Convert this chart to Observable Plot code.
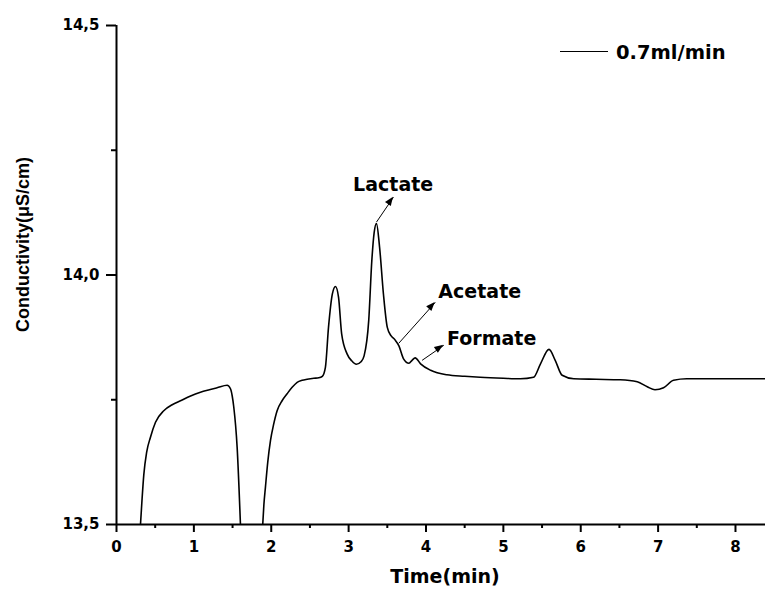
<!DOCTYPE html>
<html>
<head>
<meta charset="utf-8">
<script src="https://cdn.jsdelivr.net/npm/d3@7"></script>
<script src="https://cdn.jsdelivr.net/npm/@observablehq/plot@0.6"></script>
<style>
  html, body { margin: 0; padding: 0; background: #fff; }
  #chart { position: relative; width: 765px; height: 594px; }
</style>
</head>
<body>
<div id="chart"></div>
<script>
// ---- data ----
const seg1Time = [0.31, 0.33, 0.353, 0.39, 0.439, 0.504, 0.611, 0.72, 0.827, 0.95, 1.085, 1.2, 1.30, 1.43, 1.473, 1.495, 1.516, 1.559, 1.602];
const seg1Cond = [13.50, 13.55, 13.60, 13.645, 13.675, 13.705, 13.728, 13.740, 13.748, 13.757, 13.765, 13.770, 13.774, 13.779, 13.772, 13.758, 13.735, 13.655, 13.50];

const seg2Time = [1.89, 1.905, 1.925, 1.955, 1.99, 2.03, 2.076, 2.14, 2.205, 2.27, 2.335, 2.40, 2.464, 2.55, 2.614, 2.66, 2.70, 2.74, 2.79, 2.83, 2.87, 2.91, 2.98, 3.04, 3.10, 3.16, 3.20, 3.26, 3.30, 3.33, 3.36, 3.40, 3.45, 3.50, 3.55, 3.60, 3.65, 3.71, 3.78, 3.82, 3.86, 3.93, 4.06, 4.27, 4.50, 4.70, 5.0, 5.22, 5.39, 5.48, 5.59, 5.67, 5.76, 5.91, 6.2, 6.51, 6.73, 6.86, 6.96, 7.07, 7.2, 7.37, 7.8, 8.39];
const seg2Cond = [13.50, 13.54, 13.575, 13.625, 13.668, 13.70, 13.728, 13.748, 13.762, 13.775, 13.785, 13.789, 13.791, 13.793, 13.794, 13.797, 13.815, 13.895, 13.962, 13.977, 13.955, 13.882, 13.842, 13.828, 13.821, 13.826, 13.838, 13.909, 14.029, 14.085, 14.103, 14.056, 13.962, 13.895, 13.878, 13.870, 13.858, 13.832, 13.823, 13.829, 13.834, 13.822, 13.809, 13.800, 13.797, 13.795, 13.793, 13.792, 13.795, 13.822, 13.851, 13.829, 13.799, 13.792, 13.791, 13.790, 13.786, 13.776, 13.770, 13.774, 13.789, 13.792, 13.792, 13.792];

const seriesName = "0.7ml/min";

const xMajorTicks = [0, 1, 2, 3, 4, 5, 6, 7, 8];
const xMinorTicks = [0.5, 1.5, 2.5, 3.5, 4.5, 5.5, 6.5, 7.5];
const yMajorTicks = [13.5, 14.0, 14.5];
const yMinorTicks = [13.75, 14.25];

const peakLabels = ["Lactate", "Acetate", "Formate"];
const labelTime = [3.058, 4.16, 4.273];
const labelCond = [14.169, 13.953, 13.859];
const arrowFromTime = [3.36, 3.647, 3.95];
const arrowFromCond = [14.106, 13.863, 13.829];
const arrowToTime = [3.58, 4.12, 4.23];
const arrowToCond = [14.156, 13.945, 13.859];

// ---- tables ----
const trace = [
  ...seg1Time.map((t, i) => ({t, c: seg1Cond[i], seg: 1})),
  ...seg2Time.map((t, i) => ({t, c: seg2Cond[i], seg: 2}))
];
const notes = peakLabels.map((name, i) => ({
  name, lx: labelTime[i], ly: labelCond[i],
  x1: arrowFromTime[i], y1: arrowFromCond[i], x2: arrowToTime[i], y2: arrowToCond[i]
}));

const fmtX = d => String(d);
const fmtY = d => d.toFixed(1).replace(".", ",");

const chart = Plot.plot({
  width: 765,
  height: 594,
  marginLeft: 116,
  marginRight: 0,
  marginTop: 25,
  marginBottom: 70,
  style: {fontFamily: "DejaVu Sans", color: "black", background: "white", overflow: "visible"},
  x: {domain: [0, 8.388]},
  y: {domain: [13.5, 14.5]},
  marks: [
    Plot.line(trace, {x: "t", y: "c", z: "seg", stroke: "black", strokeWidth: 1.6, curve: "monotone-x", clip: true}),
    Plot.ruleX([0], {stroke: "black", strokeWidth: 2}),
    Plot.ruleY([13.5], {stroke: "black", strokeWidth: 2}),
    Plot.axisX({ticks: xMajorTicks, tickSize: 8, tickPadding: 9, strokeWidth: 2, label: null,
      tickFormat: fmtX, fontSize: 15, fontWeight: "bold", fontFamily: "DejaVu Sans"}),
    Plot.axisX({ticks: xMinorTicks, tickSize: 4, strokeWidth: 2, label: null, tickFormat: () => ""}),
    Plot.axisY({ticks: yMajorTicks, tickSize: 10, tickPadding: 7, strokeWidth: 2, label: null,
      tickFormat: fmtY, fontSize: 15, fontWeight: "bold", fontFamily: "DejaVu Sans"}),
    Plot.axisY({ticks: yMinorTicks, tickSize: 5, strokeWidth: 2, label: null, tickFormat: () => ""}),
    Plot.text(["Time(min)"], {frameAnchor: "bottom", dx: 4, dy: 58, fontFamily: "DejaVu Sans", fontWeight: "bold", fontSize: 19, fill: "black"}),
    Plot.text(["Conductivity(μS/cm)"], {frameAnchor: "left", textAnchor: "middle", rotate: -90, dx: -93, dy: -30.5, fontFamily: "Liberation Sans", fontWeight: "bold", fontSize: 18, fill: "black"}),
    Plot.link(notes, {x1: "x1", y1: "y1", x2: "x2", y2: "y2", stroke: "black", strokeWidth: 1}),
    Plot.text(notes, {x: "lx", y: "ly", text: "name", textAnchor: "start", lineAnchor: "bottom", fontFamily: "DejaVu Sans", fontWeight: "bold", fontSize: 19, fill: "black"})
  ]
});

document.getElementById("chart").appendChild(chart);

const svg = d3.select(chart);

// filled arrowheads, positioned through the chart's own scales
const sx = chart.scale("x"), sy = chart.scale("y");
const headLen = 9, headHalf = 3.5;
notes.forEach(n => {
  const ax = sx.apply(n.x1), ay = sy.apply(n.y1);
  const bx = sx.apply(n.x2), by = sy.apply(n.y2);
  const a = Math.atan2(by - ay, bx - ax);
  const cx = bx - headLen * Math.cos(a), cy = by - headLen * Math.sin(a);
  const px = -Math.sin(a) * headHalf, py = Math.cos(a) * headHalf;
  svg.append("polygon")
    .attr("points", `${bx},${by} ${cx + px},${cy + py} ${cx - px},${cy - py}`)
    .attr("fill", "black");
});

// legend
const lg = svg.append("g").attr("text-anchor", "start");
lg.append("line").attr("x1", 560).attr("x2", 608).attr("y1", 51.5).attr("y2", 51.5)
  .attr("stroke", "black").attr("stroke-width", 1);
lg.append("text").attr("x", 616).attr("y", 58.5).attr("text-anchor", "start").text(seriesName)
  .attr("font-family", "DejaVu Sans").attr("font-weight", "bold").attr("font-size", 19.5).attr("fill", "black");
</script>
</body>
</html>
